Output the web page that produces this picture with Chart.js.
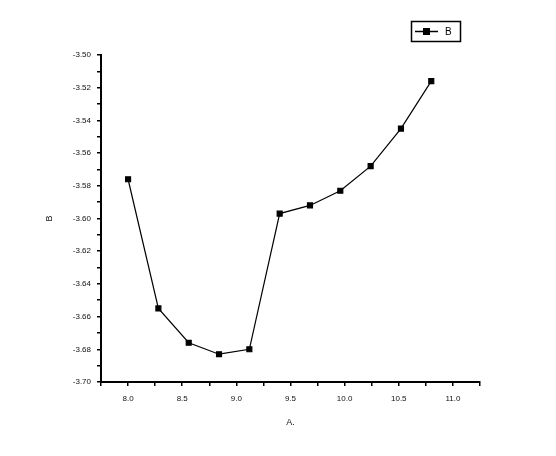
<!DOCTYPE html>
<html>
<head>
<meta charset="utf-8">
<script src="https://cdn.jsdelivr.net/npm/chart.js@4/dist/chart.umd.min.js"></script>
<style>
  html, body { margin: 0; padding: 0; background: #fff; }
  #wrap { width: 556px; height: 456px; }
</style>
</head>
<body>
<div id="wrap"><canvas id="chart" width="556" height="456"></canvas></div>
<script>
// Data
const xValues = [8.0, 8.28, 8.56, 8.84, 9.12, 9.40, 9.68, 9.96, 10.24, 10.52, 10.80];
const bValues = [-3.576, -3.655, -3.676, -3.683, -3.680, -3.597, -3.592, -3.583, -3.568, -3.545, -3.516];

// Axis ticks
const xMajorTicks = [8.0, 8.5, 9.0, 9.5, 10.0, 10.5, 11.0];
const xMinorTicks = [7.75, 8.25, 8.75, 9.25, 9.75, 10.25, 10.75, 11.25];
const yMajorTicks = [-3.70, -3.68, -3.66, -3.64, -3.62, -3.60, -3.58, -3.56, -3.54, -3.52, -3.50];
const yMinorTicks = [-3.69, -3.67, -3.65, -3.63, -3.61, -3.59, -3.57, -3.55, -3.53, -3.51];

const tickFont = { family: 'Liberation Sans, Arial, sans-serif', size: 8 };

function buildTicks(majors, minors) {
  return scale => {
    const all = majors.map(v => ({ value: v, major: true }))
      .concat(minors.map(v => ({ value: v, major: false })));
    all.sort((a, b) => a.value - b.value);
    scale.ticks = all;
  };
}

// simple boxed legend like the original
const boxLegend = {
  id: 'boxLegend',
  afterDraw(chart) {
    const ctx = chart.ctx;
    const ds = chart.data.datasets[0];
    ctx.save();
    ctx.strokeStyle = '#000';
    ctx.lineWidth = 1.5;
    ctx.strokeRect(411.5, 21.5, 49, 20);
    ctx.beginPath();
    ctx.moveTo(415, 31.5);
    ctx.lineTo(438, 31.5);
    ctx.stroke();
    ctx.fillStyle = '#000';
    ctx.fillRect(423, 28, 7, 7);
    ctx.font = '10px Liberation Sans, Arial, sans-serif';
    ctx.textBaseline = 'middle';
    ctx.fillText(ds.label, 445, 32);
    ctx.restore();
  }
};

new Chart(document.getElementById('chart'), {
  type: 'scatter',
  data: {
    datasets: [{
      label: 'B',
      data: xValues.map((x, i) => ({ x: x, y: bValues[i] })),
      showLine: true,
      borderColor: '#000',
      backgroundColor: '#000',
      borderWidth: 1.2,
      pointStyle: 'rect',
      pointRadius: 3.5,
      pointHoverRadius: 3.5
    }]
  },
  plugins: [boxLegend],
  options: {
    responsive: false,
    animation: false,
    layout: { padding: { left: 40, top: 55, right: 76, bottom: 28 } },
    plugins: { legend: { display: false }, tooltip: { enabled: false } },
    scales: {
      x: {
        type: 'linear',
        min: 7.75,
        max: 11.25,
        afterBuildTicks: buildTicks(xMajorTicks, xMinorTicks),
        afterFit: scale => { scale.height = 46; },
        border: { color: '#000', width: 2 },
        grid: { drawOnChartArea: false, color: '#000', tickLength: 4, lineWidth: 1.5 },
        ticks: {
          color: '#111',
          font: tickFont,
          padding: 8,
          maxRotation: 0,
          autoSkip: false,
          callback: v => xMajorTicks.includes(v) ? v.toFixed(1) : ''
        },
        title: { display: true, text: 'A.', color: '#111', font: { family: 'Liberation Sans, Arial, sans-serif', size: 9 }, padding: 0 }
      },
      y: {
        type: 'linear',
        min: -3.70,
        max: -3.50,
        afterBuildTicks: buildTicks(yMajorTicks, yMinorTicks),
        afterFit: scale => { scale.width = 61; },
        border: { color: '#000', width: 2 },
        grid: { drawOnChartArea: false, color: '#000', tickLength: 4, lineWidth: 1.5 },
        ticks: {
          color: '#111',
          font: tickFont,
          padding: 6,
          autoSkip: false,
          callback: v => yMajorTicks.some(t => Math.abs(t - v) < 1e-9) ? v.toFixed(2) : ''
        },
        title: { display: true, text: 'B', color: '#111', font: { family: 'Liberation Sans, Arial, sans-serif', size: 9 }, padding: 4 }
      }
    }
  }
});
</script>
</body>
</html>
